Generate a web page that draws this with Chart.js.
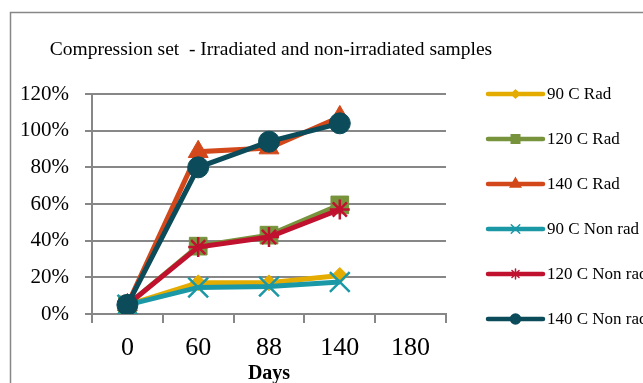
<!DOCTYPE html>
<html>
<head>
<meta charset="utf-8">
<script src="https://cdn.jsdelivr.net/npm/chart.js@4/dist/chart.umd.min.js"></script>
<style>
  html, body { margin: 0; padding: 0; background: #fff; }
  #wrap { width: 643px; height: 383px; }
</style>
</head>
<body>
<div id="wrap"><canvas id="lineChart" width="643" height="383"></canvas></div>
<script>
// Compression set - irradiated vs non-irradiated
const chartTitle = "Compression set  - Irradiated and non-irradiated samples";
const days = ["0", "60", "88", "140", "180"];
const seriesNames = ["90 C Rad", "120 C Rad", "140 C Rad", "90 C Non rad", "120 C Non rad", "140 C Non rad"];
const rad90 = [0.05, 0.17, 0.17, 0.21];
const rad120 = [0.05, 0.37, 0.43, 0.595];
const rad140 = [0.05, 0.885, 0.905, 1.075];
const nonRad90 = [0.05, 0.145, 0.15, 0.175];
const nonRad120 = [0.05, 0.365, 0.42, 0.57];
const nonRad140 = [0.05, 0.80, 0.94, 1.04];
const yTicks = [0, 0.2, 0.4, 0.6, 0.8, 1.0, 1.2];

const colors = ["#E4AC00", "#77933C", "#D2481A", "#1B98A6", "#C0122F", "#0B4B5A"];
const markers = ["rectRot", "rect", "triangle", "crossRot", "star", "circle"];
const markerSizes = [8, 12.5, 11.5, 14, 10, 10.5];
const legendSizes = [4, 6, 6, 6, 5, 5];
const serif = "'Liberation Serif', 'DejaVu Serif', serif";

const allSeries = [rad90, rad120, rad140, nonRad90, nonRad120, nonRad140];

const datasets = allSeries.map((vals, i) => ({
  label: seriesNames[i],
  data: vals,
  borderColor: colors[i],
  backgroundColor: colors[i],
  borderWidth: 5,
  pointStyle: markers[i],
  pointRadius: markerSizes[i],
  pointBorderWidth: (markers[i] === "crossRot" || markers[i] === "star") ? 2.5 : 1,
  pointBorderColor: colors[i],
  pointBackgroundColor: colors[i],
  tension: 0,
  order: 6 - i,
}));

// grey outer frame + title (title box in Chart.js can't sit off-centre like Excel's)
const framePlugin = {
  id: "frame",
  beforeDraw(chart) {
    const ctx = chart.ctx;
    ctx.save();
    ctx.strokeStyle = "#878787";
    ctx.lineWidth = 1.5;
    ctx.strokeRect(10.5, 12.5, 800, 500);
    ctx.fillStyle = "#000";
    ctx.font = "19.5px " + serif;
    ctx.textAlign = "center";
    ctx.textBaseline = "middle";
    ctx.fillText(chartTitle, 271, 50);
    ctx.restore();
  },
};

// legend drawn by hand so the line + marker look matches
const sideLegend = {
  id: "sideLegend",
  afterDraw(chart) {
    const ctx = chart.ctx;
    const x0 = 488, x1 = 543, top = 94, gap = 45;
    chart.data.datasets.forEach((ds, i) => {
      const y = top + gap * i;
      ctx.save();
      ctx.strokeStyle = ds.borderColor;
      ctx.fillStyle = ds.borderColor;
      ctx.lineWidth = 4.5;
      ctx.lineCap = "round";
      ctx.beginPath();
      ctx.moveTo(x0, y);
      ctx.lineTo(x1, y);
      ctx.stroke();
      ctx.lineWidth = 1.5;
      Chart.helpers.drawPoint(ctx, {
        pointStyle: ds.pointStyle,
        radius: legendSizes[i],
        borderWidth: 1.5,
        rotation: 0,
      }, (x0 + x1) / 2, y);
      ctx.fillStyle = "#000";
      ctx.font = "17px " + serif;
      ctx.textBaseline = "middle";
      ctx.fillText(ds.label, x1 + 4, y + 1);
      ctx.restore();
    });
  },
};

const ctx = document.getElementById("lineChart").getContext("2d");

const lineChart = new Chart(ctx, {
  type: "line",
  data: { labels: days, datasets: datasets },
  options: {
    responsive: false,
    animation: false,
    layout: { padding: { left: 12, right: 197, top: 94, bottom: 0 } },
    plugins: {
      legend: { display: false },
      tooltip: { enabled: false },
      title: { display: false },
    },
    scales: {
      x: {
        type: "category",
        offset: true,
        afterFit: (s) => { s.height = 69; },
        grid: {
          offset: true,
          drawOnChartArea: false,
          drawTicks: true,
          tickLength: 9,
          color: "#878787",
          lineWidth: 2,
        },
        border: { display: true, color: "#878787", width: 2 },
        ticks: {
          color: "#000",
          font: { family: serif, size: 26 },
          padding: 10,
          maxRotation: 0,
        },
        title: {
          display: true,
          text: "Days",
          color: "#000",
          font: { family: serif, size: 20, weight: "bold" },
          padding: { top: 0, bottom: -3 },
        },
      },
      y: {
        min: 0,
        max: 1.2,
        afterFit: (s) => { s.width = 80; },
        afterBuildTicks: (s) => { s.ticks = yTicks.map((v) => ({ value: v })); },
        grid: {
          color: "#878787",
          lineWidth: 2,
          tickLength: 7,
        },
        border: { display: true, color: "#878787", width: 2 },
        ticks: {
          color: "#000",
          font: { family: serif, size: 21 },
          padding: 16,
          callback: (v) => Math.round(v * 100) + "%",
        },
      },
    },
  },
  plugins: [framePlugin, sideLegend],
});
</script>
</body>
</html>
